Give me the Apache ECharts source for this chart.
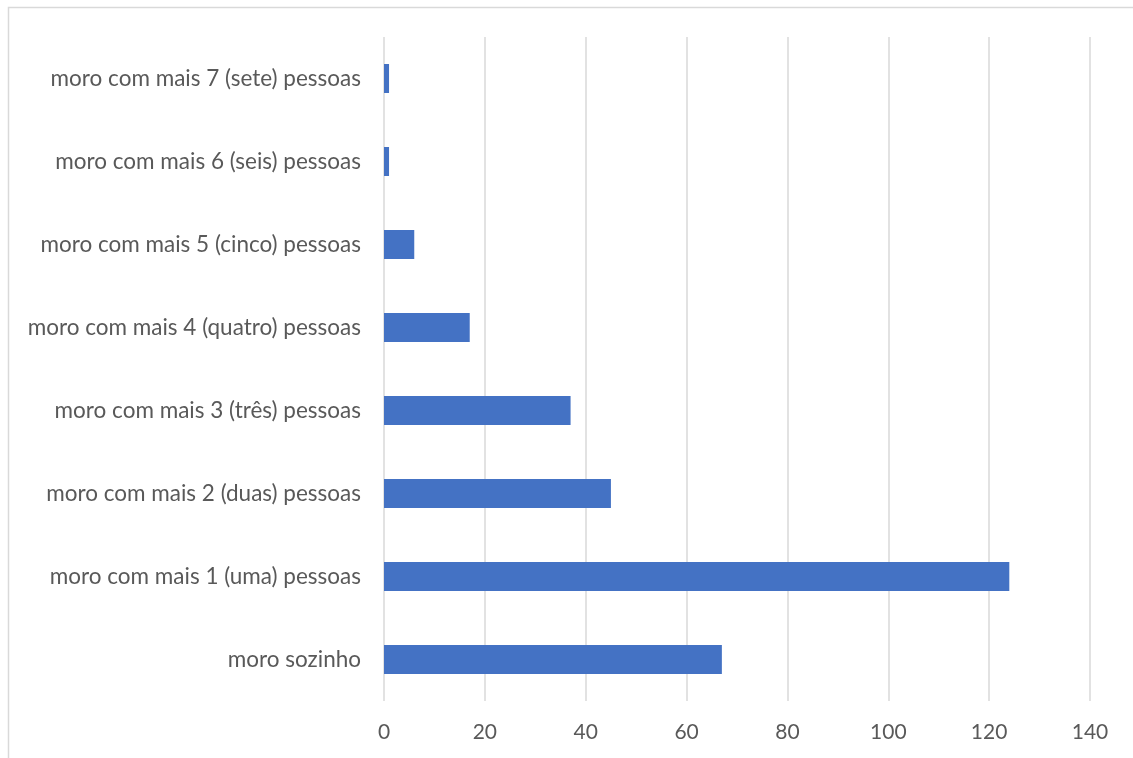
<!DOCTYPE html>
<html>
<head>
<meta charset="utf-8">
<script src="https://cdn.jsdelivr.net/npm/echarts@6/dist/echarts.min.js"></script>
<style>
  html, body { margin: 0; padding: 0; background: #ffffff; }
  #chart { width: 1133px; height: 758px; }
</style>
</head>
<body>
<div id="chart"></div>
<script>
// Household size categories (bottom to top on the chart)
const categories = [
  'moro sozinho',
  'moro com mais 1 (uma) pessoas',
  'moro com mais 2 (duas) pessoas',
  'moro com mais 3 (três) pessoas',
  'moro com mais 4 (quatro) pessoas',
  'moro com mais 5 (cinco) pessoas',
  'moro com mais 6 (seis) pessoas',
  'moro com mais 7 (sete) pessoas'
];
const counts = [67, 124, 45, 37, 17, 6, 1, 1];
const axisMin = 0;
const axisMax = 140;
const axisStep = 20;

const chart = echarts.init(document.getElementById('chart'), null, { renderer: 'canvas' });
const labelFont = 'Lato, "Open Sans", sans-serif';

chart.setOption({
  animation: false,
  backgroundColor: '#ffffff',
  graphic: [{
    type: 'rect',
    shape: { x: 8.5, y: 7.5, width: 1200, height: 800 },
    style: { fill: 'none', stroke: '#d9d9d9', lineWidth: 1.5 },
    silent: true,
    z: -1
  }],
  grid: { left: 384, right: 43, top: 37, bottom: 57, containLabel: false },
  xAxis: {
    type: 'value',
    min: axisMin,
    max: axisMax,
    interval: axisStep,
    axisLine: { show: false },
    axisTick: { show: false },
    axisLabel: { color: '#595959', fontSize: 21, fontFamily: labelFont, margin: 21 },
    splitLine: { show: true, lineStyle: { color: '#d9d9d9', width: 1.5 } }
  },
  yAxis: {
    type: 'category',
    data: categories,
    axisLine: { show: false },
    axisTick: { show: false },
    axisLabel: { color: '#595959', fontSize: 22.5, fontFamily: labelFont, margin: 23 },
    splitLine: { show: false }
  },
  series: [{
    type: 'bar',
    data: counts,
    barWidth: 29,
    itemStyle: { color: '#4472c4' }
  }]
});
</script>
</body>
</html>
